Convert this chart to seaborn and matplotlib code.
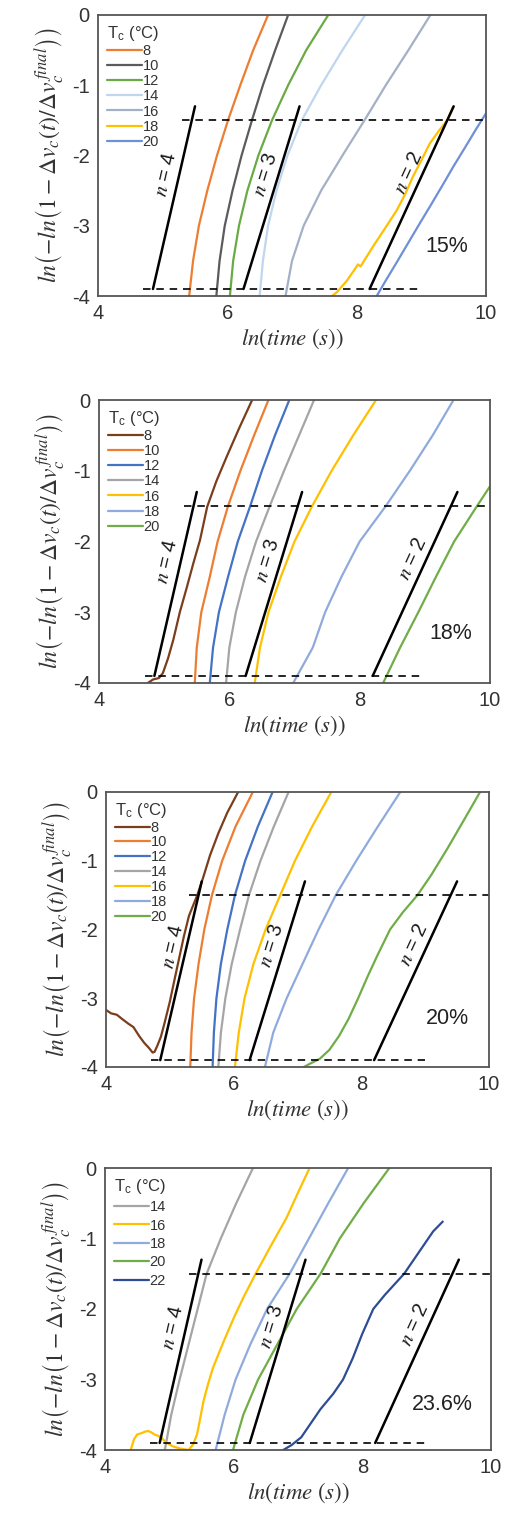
import numpy as np
import pandas as pd
import matplotlib
matplotlib.use("Agg")
import matplotlib.pyplot as plt
import seaborn as sns

# ---------------- data ----------------
# panel 15 %
x15_8 = [5.41, 5.47, 5.56, 5.69, 5.84, 6.01, 6.20, 6.40, 6.63]
y15_8 = [-4, -3.5, -3, -2.5, -2, -1.5, -1, -0.5, 0]
x15_10 = [5.83, 5.88, 5.96, 6.08, 6.22, 6.38, 6.55, 6.74, 6.94]
y15_10 = [-4, -3.5, -3, -2.5, -2, -1.5, -1, -0.5, 0]
x15_12 = [6.04, 6.09, 6.18, 6.31, 6.48, 6.69, 6.94, 7.22, 7.56]
y15_12 = [-4, -3.5, -3, -2.5, -2, -1.5, -1, -0.5, 0]
x15_14 = [6.50, 6.55, 6.63, 6.76, 6.93, 7.15, 7.45, 7.78, 8.13]
y15_14 = [-4, -3.5, -3, -2.5, -2, -1.5, -1, -0.5, 0]
x15_16 = [6.90, 7.00, 7.18, 7.45, 7.78, 8.12, 8.45, 8.80, 9.14]
y15_16 = [-4, -3.5, -3, -2.5, -2, -1.5, -1, -0.5, 0]
x15_18 = [7.62, 7.70, 7.85, 7.97, 8.02, 8.06, 8.10, 8.25, 8.45, 8.62, 8.75, 8.87, 9.00, 9.13, 9.27, 9.40, 9.49]
y15_18 = [-4.0, -3.94, -3.78, -3.62, -3.55, -3.58, -3.52, -3.3, -3.02, -2.78, -2.55, -2.3, -2.07, -1.83, -1.65, -1.5, -1.31]
x15_20 = [8.31, 8.45, 8.62, 8.80, 8.98, 9.15, 9.33, 9.50, 9.68, 9.85, 10.0]
y15_20 = [-4.0, -3.78, -3.52, -3.24, -2.96, -2.7, -2.42, -2.15, -1.88, -1.62, -1.4]

# panel 18 %
x18_8 = [4.75, 4.83, 4.92, 4.98, 5.06, 5.14, 5.24, 5.35, 5.45, 5.55, 5.66, 5.80, 5.96, 6.15, 6.35]
y18_8 = [-4.0, -3.95, -3.93, -3.86, -3.65, -3.39, -3.0, -2.64, -2.3, -1.98, -1.51, -1.15, -0.8, -0.4, 0.0]
x18_10 = [5.47, 5.50, 5.57, 5.70, 5.82, 5.98, 6.17, 6.38, 6.60]
y18_10 = [-4, -3.5, -3, -2.5, -2, -1.5, -1, -0.5, 0]
x18_12 = [5.70, 5.75, 5.84, 5.98, 6.13, 6.32, 6.50, 6.70, 6.92]
y18_12 = [-4, -3.5, -3, -2.5, -2, -1.5, -1, -0.5, 0]
x18_14 = [5.95, 6.00, 6.10, 6.24, 6.41, 6.62, 6.84, 7.07, 7.30]
y18_14 = [-4, -3.5, -3, -2.5, -2, -1.5, -1, -0.5, 0]
x18_16 = [6.39, 6.47, 6.60, 6.79, 7.00, 7.27, 7.57, 7.90, 8.25]
y18_16 = [-4, -3.5, -3, -2.5, -2, -1.5, -1, -0.5, 0]
x18_18 = [6.98, 7.10, 7.28, 7.47, 7.72, 8.00, 8.40, 8.77, 9.12, 9.44]
y18_18 = [-4, -3.8, -3.5, -3, -2.5, -2, -1.5, -1, -0.5, 0]
x18_20 = [8.36, 8.62, 8.90, 9.17, 9.45, 9.80, 10.0]
y18_20 = [-4, -3.5, -3, -2.5, -2, -1.5, -1.22]

# panel 20 %
x20_8 = [4.0, 4.08, 4.17, 4.25, 4.35, 4.43, 4.52, 4.60, 4.67, 4.73, 4.76, 4.80, 4.86, 4.92, 5.0, 5.08, 5.15, 5.22, 5.30, 5.43, 5.52, 5.63, 5.76, 5.90, 6.07]
y20_8 = [-3.17, -3.22, -3.24, -3.3, -3.37, -3.42, -3.55, -3.65, -3.72, -3.79, -3.78, -3.7, -3.56, -3.35, -3.05, -2.7, -2.4, -2.1, -1.8, -1.5, -1.25, -0.92, -0.6, -0.3, 0.0]
x20_10 = [5.32, 5.34, 5.38, 5.45, 5.54, 5.66, 5.82, 6.03, 6.30]
y20_10 = [-4, -3.5, -3, -2.5, -2, -1.5, -1, -0.5, 0]
x20_12 = [5.67, 5.69, 5.73, 5.80, 5.90, 6.02, 6.18, 6.38, 6.61]
y20_12 = [-4, -3.5, -3, -2.5, -2, -1.5, -1, -0.5, 0]
x20_14 = [5.76, 5.80, 5.87, 5.97, 6.10, 6.24, 6.42, 6.63, 6.86]
y20_14 = [-4, -3.5, -3, -2.5, -2, -1.5, -1, -0.5, 0]
x20_16 = [6.02, 6.08, 6.17, 6.31, 6.50, 6.73, 6.96, 7.23, 7.53]
y20_16 = [-4, -3.5, -3, -2.5, -2, -1.5, -1, -0.5, 0]
x20_18 = [6.49, 6.62, 6.83, 7.08, 7.33, 7.60, 7.92, 8.26, 8.61]
y20_18 = [-4, -3.5, -3, -2.5, -2, -1.5, -1, -0.5, 0]
x20_20 = [7.10, 7.20, 7.35, 7.50, 7.65, 7.80, 7.95, 8.10, 8.25, 8.45, 8.65, 8.88, 9.10, 9.35, 9.60, 9.86]
y20_20 = [-4.0, -3.95, -3.88, -3.75, -3.55, -3.3, -3.0, -2.68, -2.38, -2.0, -1.75, -1.5, -1.2, -0.82, -0.42, 0.0]

# panel 23.6 %
x236_14 = [4.93, 5.03, 5.16, 5.30, 5.44, 5.58, 5.80, 6.04, 6.30]
y236_14 = [-4, -3.5, -3, -2.5, -2, -1.5, -1, -0.5, 0]
x236_16 = [4.40, 4.45, 4.50, 4.57, 4.62, 4.67, 4.72, 4.77, 4.83, 4.88, 4.96, 5.06, 5.17, 5.30, 5.37, 5.43, 5.48, 5.53, 5.60, 5.68, 5.84, 6.00, 6.16, 6.33, 6.58, 6.82, 7.00, 7.18]
y236_16 = [-4.0, -3.85, -3.78, -3.76, -3.74, -3.73, -3.75, -3.78, -3.8, -3.83, -3.9, -3.95, -3.98, -4.0, -3.92, -3.78, -3.55, -3.31, -3.07, -2.83, -2.47, -2.13, -1.82, -1.52, -1.1, -0.71, -0.35, 0.0]
x236_18 = [5.72, 5.86, 6.03, 6.26, 6.52, 6.87, 7.17, 7.47, 7.78]
y236_18 = [-4, -3.5, -3, -2.5, -2, -1.5, -1, -0.5, 0]
x236_20 = [5.99, 6.15, 6.38, 6.68, 6.98, 7.35, 7.65, 8.02, 8.42]
y236_20 = [-4, -3.5, -3, -2.5, -2, -1.5, -1, -0.5, 0]
x236_22 = [6.77, 6.90, 7.05, 7.20, 7.35, 7.55, 7.70, 7.85, 8.00, 8.17, 8.35, 8.50, 8.65, 8.80, 8.95, 9.10, 9.25]
y236_22 = [-4.0, -3.93, -3.82, -3.62, -3.42, -3.2, -3.0, -2.7, -2.35, -2.0, -1.8, -1.65, -1.5, -1.3, -1.1, -0.9, -0.76]

# Avrami reference lines (n = 4, 3, 2) and guide levels
n_values = [4, 3, 2]
n_x_start = [4.85, 6.25, 8.20]
n_y_start = -3.9
n_y_end = -1.3
guide_y = [-1.5, -3.9]
guide_xmin = [5.3, 4.7]
guide_xmax = [10.0, 9.0]

panel_labels = ["15%", "18%", "20%", "23.6%"]
temps_15 = ["8", "10", "12", "14", "16", "18", "20"]
temps_18 = ["8", "10", "12", "14", "16", "18", "20"]
temps_20 = ["8", "10", "12", "14", "16", "18", "20"]
temps_236 = ["14", "16", "18", "20", "22"]

colors_15 = ["#ED7D31", "#5B5B5F", "#6AAA45", "#BFD6EE", "#A3B0C6", "#FFC000", "#6F8FD6"]
colors_18 = ["#7A3E1C", "#ED7D31", "#4472C4", "#A5A5A5", "#FFC000", "#8FAADC", "#70AD47"]
colors_20 = ["#7A3E1C", "#ED7D31", "#4472C4", "#A5A5A5", "#FFC000", "#8FAADC", "#70AD47"]
colors_236 = ["#A5A5A5", "#FFC000", "#8FAADC", "#70AD47", "#2E4C95"]

series_15 = [(x15_8, y15_8), (x15_10, y15_10), (x15_12, y15_12), (x15_14, y15_14),
             (x15_16, y15_16), (x15_18, y15_18), (x15_20, y15_20)]
series_18 = [(x18_8, y18_8), (x18_10, y18_10), (x18_12, y18_12), (x18_14, y18_14),
             (x18_16, y18_16), (x18_18, y18_18), (x18_20, y18_20)]
series_20 = [(x20_8, y20_8), (x20_10, y20_10), (x20_12, y20_12), (x20_14, y20_14),
             (x20_16, y20_16), (x20_18, y20_18), (x20_20, y20_20)]
series_236 = [(x236_14, y236_14), (x236_16, y236_16), (x236_18, y236_18),
              (x236_20, y236_20), (x236_22, y236_22)]

# ---------------- style ----------------
sns.set_theme(style="white")
plt.rcParams["font.family"] = ["Liberation Sans", "DejaVu Sans"]
plt.rcParams["mathtext.fontset"] = "stix"

W, H = 506, 1516
fig = plt.figure(figsize=(W / 100, H / 100), dpi=100)

# axes boxes in pixels: left, top, right, bottom
boxes = [(98, 15, 486, 296), (99, 400, 490, 683), (106, 792, 489, 1067), (105, 1168, 491, 1450)]
label_xy = [(9.4, -3.3), (9.4, -3.3), (9.35, -3.3), (9.25, -3.35)]
ntext_y = [-2.3, -2.3, -2.27, -2.28]
legend_spacing = [0.08, 0.08, 0.06, 0.3]

panels = [(series_15, temps_15, colors_15), (series_18, temps_18, colors_18),
          (series_20, temps_20, colors_20), (series_236, temps_236, colors_236)]

ylab = r"$ln\left(-ln\left(1-\Delta v_c(t)/\Delta v_c^{\,final}\right)\right)$"
xlab = r"$ln\left(time\ (s)\right)$"
tick_color = "#333333"

for i, ((series, temps, cols), box) in enumerate(zip(panels, boxes)):
    l, t, r, b = box
    ax = fig.add_axes([l / W, 1 - b / H, (r - l) / W, (b - t) / H])
    for (xs, ys), lab, c in zip(series, temps, cols):
        df = pd.DataFrame({"x": xs, "y": ys})
        sns.lineplot(data=df, x="x", y="y", sort=False, estimator=None, color=c,
                     lw=1.6, label=lab, ax=ax)
    # guide dashed lines
    for gy, gx0, gx1 in zip(guide_y, guide_xmin, guide_xmax):
        sns.lineplot(x=[gx0, gx1], y=[gy, gy], color="black", lw=1.2,
                     ax=ax, legend=False).lines[-1].set_dashes((4.5, 3.5))
    # Avrami slope lines
    for n, xs0 in zip(n_values, n_x_start):
        xe = xs0 + (n_y_end - n_y_start) / n
        sns.lineplot(x=[xs0, xe], y=[n_y_start, n_y_end], color="black", lw=1.8,
                     ax=ax, legend=False)
        xt = xs0 + (ntext_y[i] - n_y_start) / n - 0.06
        ax.text(xt, ntext_y[i], r"$n$ = %d" % n, fontsize=14.5, color="#1a1a1a",
                rotation=np.degrees(np.arctan(n)), transform_rotates_text=True,
                rotation_mode="anchor", ha="center", va="bottom")
    ax.text(label_xy[i][0], label_xy[i][1], panel_labels[i], fontsize=15.5,
            color="#222222", ha="center", va="center")

    ax.set_xlim(4, 10)
    ax.set_ylim(-4, 0)
    ax.set_xticks([4, 6, 8, 10])
    ax.set_yticks([0, -1, -2, -3, -4])
    ax.set_yticklabels(["0", "-1", "-2", "-3", "-4"])
    ax.tick_params(axis="both", labelsize=14.5, colors=tick_color, direction="out",
                   length=4, width=1, pad=2)
    for s in ax.spines.values():
        s.set_color("#555555")
        s.set_linewidth(1.3)
    ax.set_xlabel(xlab, fontsize=16.5, color="#333333", labelpad=2)
    ax.set_ylabel(ylab, fontsize=17, color="#333333", labelpad=4)

    leg = ax.legend(loc="upper left", frameon=False, title=r"T$_\mathregular{c}$ (°C)",
                    fontsize=10.5, title_fontsize=12, handlelength=2.4,
                    handletextpad=0.05, labelspacing=legend_spacing[i],
                    borderpad=0.3, borderaxespad=0.3, alignment="left")
    for txt in leg.get_texts():
        txt.set_color("#333333")
    leg.get_title().set_color("#333333")

fig.savefig("out.png", dpi=100)
